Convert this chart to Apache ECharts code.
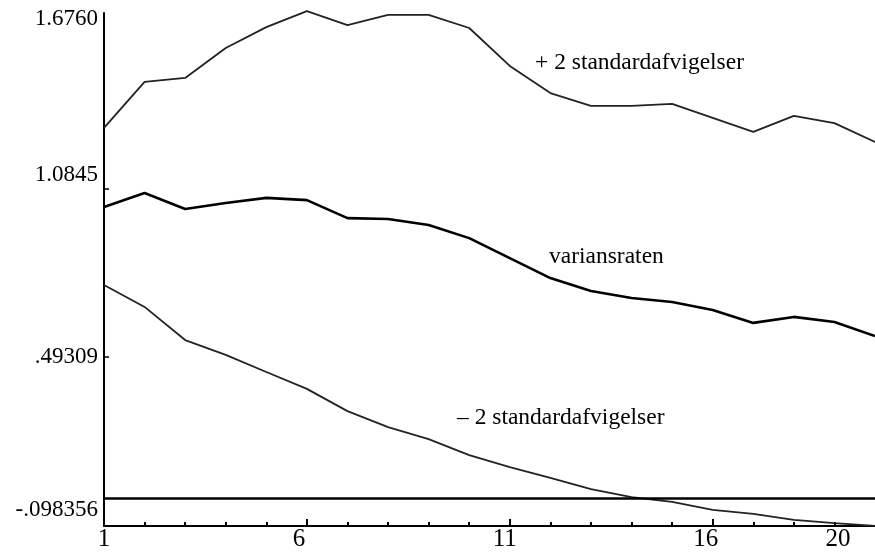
<!DOCTYPE html>
<html>
<head>
<meta charset="utf-8">
<script src="https://cdn.jsdelivr.net/npm/echarts@6/dist/echarts.min.js"></script>
<style>
  html, body { margin: 0; padding: 0; background: #fff; }
  #chart { width: 875px; height: 553px; }
</style>
</head>
<body>
<div id="chart"></div>
<script>
// ---- data ----
const xValues = [1, 2, 3, 4, 5, 6, 7, 8, 9, 10, 11, 12, 13, 14, 15, 16, 17, 18, 19, 20];
const upperBand = [1.296, 1.457, 1.471, 1.576, 1.649, 1.705, 1.656, 1.692, 1.692, 1.646,
                   1.513, 1.418, 1.373, 1.373, 1.380, 1.331, 1.282, 1.338, 1.313, 1.247];
const varianceRatio = [1.019, 1.068, 1.012, 1.033, 1.051, 1.043, 0.980, 0.977, 0.956, 0.910,
                       0.840, 0.770, 0.725, 0.700, 0.686, 0.658, 0.613, 0.634, 0.616, 0.567];
const lowerBand = [0.746, 0.669, 0.553, 0.501, 0.441, 0.382, 0.304, 0.248, 0.206, 0.150,
                   0.108, 0.070, 0.031, 0.003, -0.014, -0.042, -0.056, -0.077, -0.088, -0.098];
const referenceLevel = 0;

const yTickValues = [-0.098356, 0.49309, 1.0845, 1.6760];
const yTickLabels = ['-.098356', '.49309', '1.0845', '1.6760'];
const xTickValues = [1, 6, 11, 16, 20];
const xTickLabels = ['1', '6', '11', '16', '20'];
const xMinorTicks = [2, 3, 4, 5, 7, 8, 9, 10, 12, 13, 14, 15, 17, 18, 19];

const annotationTexts = ['+ 2 standardafvigelser', 'variansraten', '\u2013 2 standardafvigelser'];

// ---- styling ----
const SERIF = '"Liberation Serif", "DejaVu Serif", serif';
const yLabelShift = { '-.098356': 32, '.49309': 0, '1.0845': 26, '1.6760': 0 };
const xLabelShift = { '1': 0, '6': 16, '11': 10, '16': 14, '20': 74 };

const yRich = {};
yTickLabels.forEach((t, i) => {
  yRich['y' + i] = { fontFamily: SERIF, fontSize: 23, color: '#000', padding: [0, 0, yLabelShift[t], 0] };
});
const xRich = {};
xTickLabels.forEach((t, i) => {
  xRich['x' + i] = { fontFamily: SERIF, fontSize: 25, color: '#000', padding: [0, xLabelShift[t], 0, 0] };
});

const toPairs = arr => xValues.map((x, i) => [x, arr[i]]);

const chart = echarts.init(document.getElementById('chart'), null, { renderer: 'canvas' });

const option = {
  animation: false,
  backgroundColor: '#ffffff',
  grid: { left: 104, right: -10, top: 13, bottom: 27, containLabel: false },
  xAxis: [
    {
      type: 'value', min: 1, max: 20,
      splitLine: { show: false },
      axisLine: { show: true, onZero: false, lineStyle: { color: '#000', width: 2 } },
      axisTick: { show: true, inside: true, length: 7, customValues: xTickValues.slice(1, 4),
                  lineStyle: { color: '#000', width: 2 } },
      axisLabel: {
        show: true, margin: 1, customValues: xTickValues,
        formatter: v => {
          const i = xTickValues.indexOf(v);
          return i < 0 ? '' : '{x' + i + '|' + xTickLabels[i] + '}';
        },
        rich: xRich
      }
    },
    {
      type: 'value', min: 1, max: 20, position: 'bottom',
      splitLine: { show: false },
      axisLine: { show: false, onZero: false },
      axisTick: { show: true, inside: true, length: 4, customValues: xMinorTicks,
                  lineStyle: { color: '#000', width: 2 } },
      axisLabel: { show: false }
    }
  ],
  yAxis: {
    type: 'value', min: -0.098356, max: 1.6985,
    splitLine: { show: false },
    axisLine: { show: true, onZero: false, lineStyle: { color: '#000', width: 2 } },
    axisTick: { show: true, inside: true, length: 5, customValues: yTickValues.slice(1, 3),
                lineStyle: { color: '#000', width: 1.5 } },
    axisLabel: {
      show: true, margin: 6, customValues: yTickValues,
      formatter: v => {
        let i = -1;
        yTickValues.forEach((t, k) => { if (Math.abs(t - v) < 1e-6) i = k; });
        return i < 0 ? '' : '{y' + i + '|' + yTickLabels[i] + '}';
      },
      rich: yRich
    }
  },
  series: [
    {
      name: '+ 2 standardafvigelser', type: 'line', data: toPairs(upperBand),
      showSymbol: false, clip: false,
      lineStyle: { color: '#222', width: 1.8 },
      markLine: {
        silent: true, symbol: ['none', 'none'], label: { show: false },
        lineStyle: { color: '#000', width: 2.6, type: 'solid' },
        data: [{ yAxis: referenceLevel }]
      }
    },
    {
      name: 'variansraten', type: 'line', data: toPairs(varianceRatio),
      showSymbol: false, clip: false,
      lineStyle: { color: '#000', width: 2.6 }
    },
    {
      name: '- 2 standardafvigelser', type: 'line', data: toPairs(lowerBand),
      showSymbol: false, clip: false,
      lineStyle: { color: '#222', width: 1.8 }
    }
  ],
  graphic: [
    { type: 'text', x: 535, y: 63, style: { text: annotationTexts[0], font: '23.5px ' + SERIF, fill: '#000', verticalAlign: 'middle' } },
    { type: 'text', x: 549, y: 257, style: { text: annotationTexts[1], font: '23.5px ' + SERIF, fill: '#000', verticalAlign: 'middle' } },
    { type: 'text', x: 457, y: 418, style: { text: annotationTexts[2], font: '23.5px ' + SERIF, fill: '#000', verticalAlign: 'middle' } }
  ]
};

chart.setOption(option);
</script>
</body>
</html>
